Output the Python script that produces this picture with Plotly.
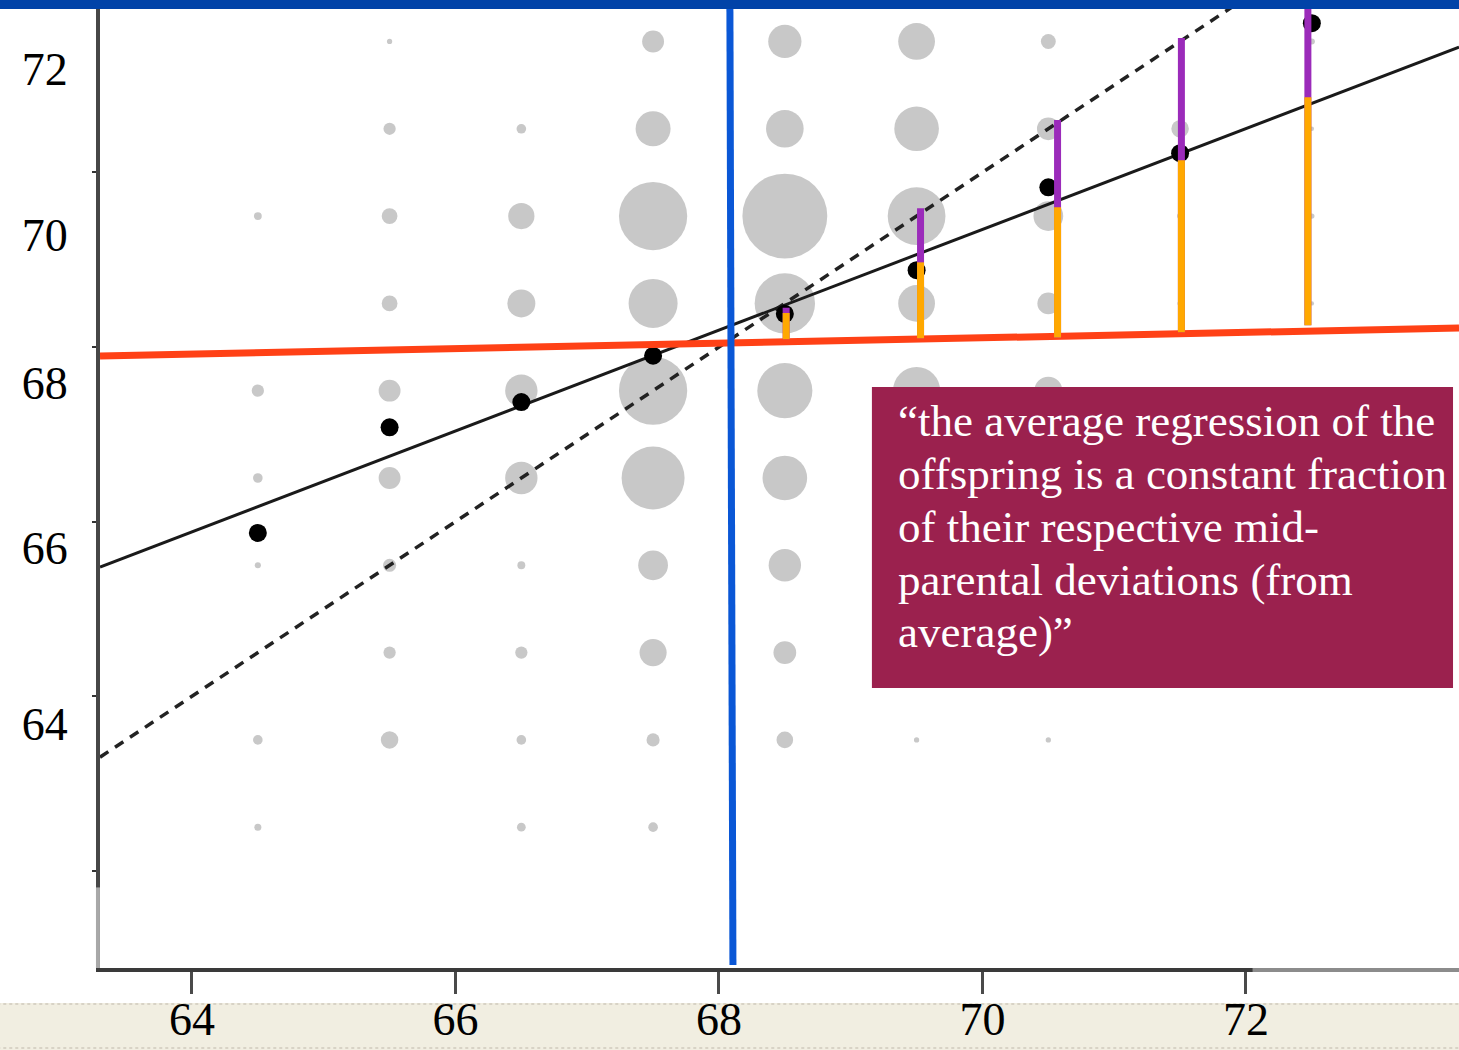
import plotly.graph_objects as go

# ---- frequency grid: mid-parent height (x) vs child height (y), bubble ~ count ----
bubble_mid = [
    65.5, 67.5, 68.5, 69.5, 70.5, 72.5,
    65.5, 66.5, 67.5, 68.5, 69.5, 70.5, 71.5, 72.5,
    64.5, 65.5, 66.5, 67.5, 68.5, 69.5, 70.5, 71.5, 72.5,
    65.5, 66.5, 67.5, 68.5, 69.5, 70.5, 71.5, 72.5,
    64.5, 65.5, 66.5, 67.5, 68.5, 69.5, 70.5,
    64.5, 65.5, 66.5, 67.5, 68.5, 69.5, 70.5,
    64.5, 65.5, 66.5, 67.5, 68.5, 69.5,
    65.5, 66.5, 67.5, 68.5, 69.5,
    64.5, 65.5, 66.5, 67.5, 68.5, 69.5, 70.5,
    64.5, 66.5, 67.5,
]
bubble_child = [
    71.5, 71.5, 71.5, 71.5, 71.5, 71.5,
    70.5, 70.5, 70.5, 70.5, 70.5, 70.5, 70.5, 70.5,
    69.5, 69.5, 69.5, 69.5, 69.5, 69.5, 69.5, 69.5, 69.5,
    68.5, 68.5, 68.5, 68.5, 68.5, 68.5, 68.5, 68.5,
    67.5, 67.5, 67.5, 67.5, 67.5, 67.5, 67.5,
    66.5, 66.5, 66.5, 66.5, 66.5, 66.5, 66.5,
    65.5, 65.5, 65.5, 65.5, 65.5, 65.5,
    64.5, 64.5, 64.5, 64.5, 64.5,
    63.5, 63.5, 63.5, 63.5, 63.5, 63.5, 63.5,
    62.5, 62.5, 62.5,
]
bubble_count = [
    3, 12.5, 19, 21, 8.5, 3.5,
    7, 5.5, 20, 21.5, 25.5, 13, 10, 2.5,
    4.5, 9, 15, 39, 48.5, 33, 17, 3.5, 3,
    9, 16, 28, 34.5, 21, 12.5, 3, 2.5,
    7, 12.5, 18.5, 39, 31.5, 27, 16,
    5.5, 12.5, 18.5, 36, 25.5, 17, 8.5,
    3.5, 7.5, 4.5, 17, 18.5, 11.5,
    7, 7, 15.5, 13, 4.5,
    5.5, 10, 5.5, 7.5, 9.5, 3, 3,
    4, 5, 5.5,
]

# ---- mean child height for each mid-parent column ----
mean_mid = [64.5, 65.5, 66.5, 67.5, 68.5, 69.5, 70.5, 71.5, 72.5]
mean_child = [65.87, 67.08, 67.37, 67.90, 68.38, 68.88, 69.83, 70.22, 71.71]

# ---- reference lines (end points across the axis range) ----
line_x = [63.302, 73.617]
fit_y = [65.48, 71.436]          # regression of child on mid-parent
equal_y = [63.302, 73.617]       # child = mid-parent
mean_y = [67.897, 68.218]        # population mean
parent_mean_x = [68.083, 68.106]
parent_mean_y = [71.872, 60.921]

# ---- deviation bars: mean line -> fitted line -> equality line ----
dev_x = [68.51, 69.53, 70.57, 71.51, 72.47]
dev_base = [68.09, 68.10, 68.11, 68.17, 68.25]
dev_fit = [68.39, 68.97, 69.60, 70.14, 70.86]
dev_top = [68.45, 69.59, 70.60, 71.54, 71.95]

x_ticks = [64, 66, 68, 70, 72]
x_tick_text = ["64", "66", "68", "70", "72"]
y_label_pos = [71.19, 69.29, 67.59, 65.70, 63.68]
y_label_text = ["72", "70", "68", "66", "64"]
y_axis_marks = [62, 64, 66, 68, 70]

quote_lines = [
    "\u201cthe average regression of the",
    "offspring is a constant fraction",
    "of their respective mid-",
    "parental deviations (from",
    "average)\u201d",
]

SERIF = "Liberation Serif"

fig = go.Figure()

fig.add_trace(go.Scatter(
    x=bubble_mid, y=bubble_child, mode="markers",
    marker=dict(size=bubble_count, sizemode="diameter", sizeref=1 / 1.75,
                color="#c8c8c8", opacity=1, line=dict(width=0)),
    hoverinfo="skip"))

fig.add_trace(go.Scatter(x=line_x, y=equal_y, mode="lines",
                         line=dict(color="#222222", width=3.5, dash="10px,8px")))
fig.add_trace(go.Scatter(x=line_x, y=fit_y, mode="lines",
                         line=dict(color="#1a1a1a", width=3)))

fig.add_trace(go.Scatter(x=mean_mid, y=mean_child, mode="markers",
                         marker=dict(size=18, color="black", opacity=1)))

fig.add_trace(go.Scatter(x=line_x, y=mean_y, mode="lines",
                         line=dict(color="#ff4116", width=7)))
fig.add_trace(go.Scatter(x=parent_mean_x, y=parent_mean_y, mode="lines",
                         line=dict(color="#0a57d6", width=7)))

# purple: full deviation from the mean line up to the equality line
px_, py_ = [], []
for x, b, t in zip(dev_x, dev_base, dev_top):
    px_ += [x, x, None]
    py_ += [b, t, None]
fig.add_trace(go.Scatter(x=px_, y=py_, mode="lines",
                         line=dict(color="#9b2bba", width=7)))
# orange: the part explained by the regression
ox_, oy_ = [], []
for x, b, f in zip(dev_x, dev_base, dev_fit):
    ox_ += [x, x, None]
    oy_ += [b, f, None]
fig.add_trace(go.Scatter(x=ox_, y=oy_, mode="lines",
                         line=dict(color="#ffa800", width=7)))

shapes = [
    # label strip under the x axis
    dict(type="rect", xref="paper", yref="paper", x0=-0.08, x1=1.0,
         y0=-0.0855, y1=-0.0365, fillcolor="#f1eee1", line=dict(width=0),
         layer="below"),
    dict(type="line", xref="paper", yref="paper", x0=-0.08, x1=1.0,
         y0=-0.0375, y1=-0.0375, line=dict(color="#cfcabd", width=1.5, dash="dot"),
         layer="below"),
    dict(type="line", xref="paper", yref="paper", x0=-0.08, x1=1.0,
         y0=-0.0835, y1=-0.0835, line=dict(color="#cfcabd", width=1.5, dash="dot"),
         layer="below"),
    # header bar
    dict(type="rect", xref="paper", yref="paper", x0=-0.08, x1=1.0,
         y0=1.0, y1=1.012, fillcolor="#0143a8", line=dict(width=0), layer="above"),
    # lighter tail of the axes
    dict(type="line", xref="paper", yref="y", x0=-0.0015, x1=-0.0015,
         y0=60.887, y1=61.81, line=dict(color="#a8a8a8", width=4), layer="above"),
    dict(type="line", xref="x", yref="paper", x0=72.05, x1=73.617,
         y0=-0.002, y1=-0.002, line=dict(color="#8c8c8c", width=4), layer="above"),
    # quotation box
    dict(type="rect", xref="paper", yref="paper", x0=0.568, x1=0.9956,
         y0=0.292, y1=0.6058, fillcolor="#9b214e", line=dict(width=0),
         layer="above"),
]

line_centres = [0.5703, 0.5151, 0.4598, 0.4045, 0.3503]
annotations = [
    dict(text=t, xref="paper", yref="paper", x=0.5857, y=yc,
         xanchor="left", yanchor="middle", showarrow=False,
         font=dict(family=SERIF, size=45, color="white"))
    for t, yc in zip(quote_lines, line_centres)
]

fig.update_layout(
    width=1459, height=1050,
    margin=dict(l=100, r=0, t=9, b=82),
    paper_bgcolor="white", plot_bgcolor="white",
    showlegend=False,
    shapes=shapes, annotations=annotations,
    xaxis=dict(range=[63.302, 73.617], showgrid=False, zeroline=False,
               automargin=False,
               showline=True, linecolor="#3a3a3a", linewidth=4,
               tickmode="array", tickvals=x_ticks, ticktext=x_tick_text,
               ticks="outside", ticklen=22, tickwidth=3, tickcolor="#4a4a4a",
               ticklabelstandoff=-14,
               tickfont=dict(family=SERIF, size=46, color="black")),
    yaxis=dict(range=[60.887, 71.872], showgrid=False, zeroline=False,
               automargin=False,
               showline=True, linecolor="#474747", linewidth=4,
               tickmode="array", tickvals=y_label_pos, ticktext=y_label_text,
               ticks="", ticklabelstandoff=19,
               tickfont=dict(family=SERIF, size=46, color="black"),
               minor=dict(tickmode="array", tickvals=y_axis_marks,
                          ticks="outside", ticklen=4, tickwidth=2,
                          tickcolor="#333333", showgrid=False)),
)

fig.write_html("out.html")
